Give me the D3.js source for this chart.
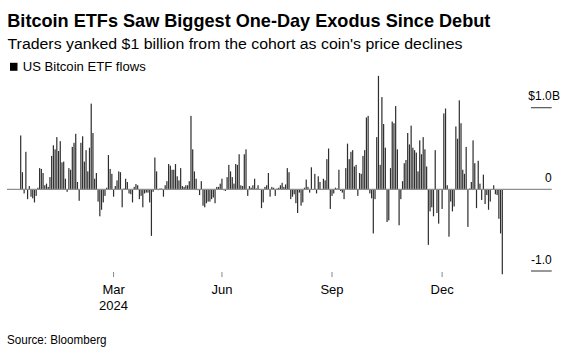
<!DOCTYPE html>
<html><head><meta charset="utf-8">
<script src="https://cdn.jsdelivr.net/npm/d3@7"></script>
<style>
body{margin:0;background:#fff;}
svg{display:block;font-family:"Liberation Sans",Arial,Helvetica,sans-serif;}
</style></head><body>
<svg id="c" width="588" height="353"></svg>
<script>
// ---- data ----
const startDate = "2024-01-11", endDate = "2025-02-25";
const holidays = ["2024-01-15","2024-02-19","2024-03-29","2024-05-27","2024-06-19","2024-07-04",
  "2024-09-02","2024-11-28","2024-12-25","2025-01-01","2025-01-09","2025-01-20","2025-02-17"];
// daily net flows, US$ billions (one per trading day)
const flowsBn = [
  0.66, 0.21, -0.05, 0.46, -0.12, 0.04, -0.09, -0.11, -0.16, -0.08,
  0.02, 0.26, 0.25, 0.2, 0.05, 0.07, 0.03, 0.15, 0.41, 0.54,
  0.49, 0.64, 0.47, 0.59, 0.33, 0.34, 0.13, -0.03, 0.26, 0.24,
  0.52, 0.57, 0.68, 0.09, -0.14, 0.57, 0.65, 0.34, 0.48, 0.22,
  0.51, 1.05, 0.69, 0.13, 0.2, -0.15, -0.33, -0.25, -0.16, -0.08,
  0.02, 0.42,
  0.25, 0.19, -0.09, 0.04, 0.11, 0.22, 0.21, -0.22, 0.01, 0.13,
  0.09, -0.05, -0.06, -0.16, 0.03, 0.065, 0.05, -0.12, -0.08, -0.22,
  -0.05, -0.04, -0.04, -0.16, -0.57,
  -0.03, 0.39, 0.22, -0.01, 0.01, 0.01, -0.09, 0.05, 0.1, 0.31,
  0.29, 0.24, 0.24, 0.31, 0.16, 0.11, 0.26, 0.04, 0.03, 0.05,
  0.05, 0.1, 0.9,
  0.49, 0.22, 0.13, -0.01, -0.07, 0.1, -0.2, -0.22, -0.17, -0.15,
  -0.15, -0.12, -0.1, -0.17,
  0.03, 0.03, 0.07, 0.13, -0.01, -0.02, 0.15, 0.3, 0.22, 0.15,
  0.07, 0.31, 0.3, 0.43, 0.05, 0.04, 0.43, 0.49, -0.08, 0.04,
  0.02, 0.05, 0.13, 0.01, 0.05, 0.0, -0.23, -0.16, 0.03, 0.05,
  0.2, -0.09, 0.03, 0.02, -0.08, 0.01, 0.02, 0.05, 0.08, 0.03,
  0.06, 0.26, 0.21, -0.12, -0.09, -0.06, -0.17, -0.29, -0.04, -0.2,
  -0.16, 0.02, 0.12, 0.03, -0.04,
  0.27, 0.0, 0.19, -0.05, 0.16, 0.09, 0.0, 0.13, 0.11, 0.37,
  0.5, -0.24, -0.08, -0.05, 0.02, 0.01, 0.24, -0.02, -0.04, -0.12,
  0.26, 0.56, 0.37, 0.46, 0.48, 0.28, 0.3, -0.08, 0.2, 0.19,
  0.41, 0.48, 0.88, 0.9, -0.05, -0.11,
  -0.54, -0.12, 0.64, 1.39, 0.3, 1.13, 0.8, 0.51, -0.4, -0.38,
  0.26, 0.83, 0.81, 1.02, 0.49, -0.44, -0.12, 0.1, 0.32, 0.36,
  0.69, 0.55,
  0.78, 0.51, 0.48, 0.45, 0.22, 0.6, 0.43, 0.64, 0.49, 0.28, -0.68,
  -0.27, -0.22, -0.33, 0.48, -0.29, -0.42, -0.005, -0.24, 0.93, 0.99,
  0.05, -0.58, -0.15, -0.27, -0.21, 0.77, 0.62, 1.09, 0.81, 0.24,
  0.19, 0.52, -0.46, 0.01, 0.09, 0.6, 0.32, -0.23, 0.35, 0.07,
  -0.13, 0.18, -0.18, -0.07, -0.25, -0.15, -0.005, 0.05, -0.06, -0.07,
  -0.36, -0.54, -1.04
];
const yTicks = [1, 0, -1];
const yTickLabels = ["$1.0", "0", "-1.0"];
const xTickDates = ["2024-04-01", "2024-07-01", "2024-10-01", "2025-01-02"];
const xTickLabels = ["Mar", "Jun", "Sep", "Dec"];
const yearLabel = "2024";

// ---- trading-day categories ----
const fmt = d3.utcFormat("%Y-%m-%d");
const hol = new Set(holidays);
const dates = [];
for (let d = new Date(startDate + "T00:00:00Z"); d <= new Date(endDate + "T00:00:00Z"); d = d3.utcDay.offset(d, 1)) {
  const wd = d.getUTCDay(), s = fmt(d);
  if (wd !== 0 && wd !== 6 && !hol.has(s)) dates.push(s);
}
const n = Math.min(dates.length, flowsBn.length);
const data = d3.range(n).map(i => ({date: dates[i], v: flowsBn[i]}));

const svg = d3.select("#c");
const x = d3.scaleBand().domain(data.map(d => d.date)).range([19.84, 503.16]).paddingInner(0.3).paddingOuter(0.15);
const y = d3.scaleLinear().domain([-1, 1]).range([271, 107.7]);

function fitText(sel, target) {
  sel.attr("textLength", target).attr("lengthAdjust", "spacingAndGlyphs");
}

// title block
fitText(svg.append("text").attr("x", 7.3).attr("y", 26.7).attr("font-size", 17.8).attr("font-weight", "bold")
  .attr("fill", "#000").text("Bitcoin ETFs Saw Biggest One-Day Exodus Since Debut"), 483);
fitText(svg.append("text").attr("x", 7.5).attr("y", 49).attr("font-size", 14).attr("fill", "#000")
  .text("Traders yanked $1 billion from the cohort as coin's price declines"), 455);
svg.append("rect").attr("x", 10).attr("y", 62.8).attr("width", 7.5).attr("height", 8).attr("fill", "#000");
fitText(svg.append("text").attr("x", 22.7).attr("y", 70.7).attr("font-size", 12.5).attr("fill", "#000")
  .text("US Bitcoin ETF flows"), 123);

// bars
svg.append("g").selectAll("rect").data(data).join("rect")
  .attr("x", d => x(d.date))
  .attr("width", x.bandwidth())
  .attr("y", d => y(Math.max(0, d.v)))
  .attr("height", d => Math.abs(y(d.v) - y(0)))
  .attr("fill", "#2e2e2e");

// y axis (right)
const yg = svg.append("g");
yTicks.forEach((t, i) => {
  if (t === 0) {
    yg.append("line").attr("x1", 7).attr("x2", 551.7).attr("y1", y(0)).attr("y2", y(0))
      .attr("stroke", "#8f8f8f").attr("stroke-width", 1.2);
  } else {
    yg.append("line").attr("x1", 531).attr("x2", 551.7).attr("y1", y(t)).attr("y2", y(t))
      .attr("stroke", "#444").attr("stroke-width", 1.1);
  }
  yg.append("text").attr("x", 551.7).attr("y", y(t) - 7.5).attr("text-anchor", "end")
    .attr("font-size", 12).attr("fill", "#000").text(yTickLabels[i]);
  if (t === 1) {
    yg.append("text").attr("x", 551.9).attr("y", y(t) - 7.5).attr("font-size", 12).attr("fill", "#000").text("B");
  }
});

// x axis ticks
const xg = svg.append("g");
xTickDates.forEach((d, i) => {
  const cx = x(d) + x.bandwidth() / 2;
  xg.append("line").attr("x1", cx).attr("x2", cx).attr("y1", 272).attr("y2", 277)
    .attr("stroke", "#888").attr("stroke-width", 1);
  xg.append("text").attr("x", cx).attr("y", 294).attr("text-anchor", "middle")
    .attr("font-size", 13).attr("fill", "#000").text(xTickLabels[i]);
  if (i === 0) {
    xg.append("text").attr("x", cx).attr("y", 310.3).attr("text-anchor", "middle")
      .attr("font-size", 13).attr("fill", "#000").text(yearLabel);
  }
});

// source
fitText(svg.append("text").attr("x", 7).attr("y", 343.7).attr("font-size", 12).attr("fill", "#000")
  .text("Source: Bloomberg"), 99.5);
</script>
</body></html>
